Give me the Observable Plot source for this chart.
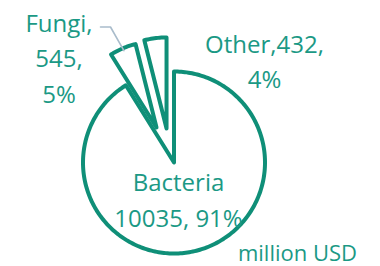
<!DOCTYPE html>
<html><head><meta charset="utf-8">
<script src="https://cdn.jsdelivr.net/npm/d3@7"></script>
<script src="https://cdn.jsdelivr.net/npm/@observablehq/plot@0.6"></script>
<style>
html,body{margin:0;padding:0;background:#fff;}
#chart svg{display:block;}
</style>
</head><body><div id="chart"></div>
<script>
// ---- data ----
const categories = ["Bacteria", "Fungi", "Other"];
const values = [10035, 545, 432];
const percents = ["91%", "5%", "4%"];
const unitLabel = "million USD";

// ---- layout (not data) ----
const W = 380, H = 266;
const CX = 173.5, CY = 162, R = 91;                 // pie centre / radius in px
const offsets = [[0, 0], [-0.192, 0.385], [-0.082, 0.374]]; // slice explosion (unit coords)
const radii = [1, 0.945, 1];
const STROKE = "#0f8f78", TEXT = "#1b9985", LEADER = "#a9bccb";
const FONT = "Open Sans";

const pie = d3.pie().sort(null).startAngle(0).endAngle(2 * Math.PI)(values);

// slice outlines in unit coordinates (r = 1)
const outline = [];
pie.forEach((p, i) => {
  const [ox, oy] = offsets[i], r = radii[i];
  outline.push({name: categories[i], x: ox, y: oy});
  const n = Math.max(4, Math.ceil((p.endAngle - p.startAngle) / 0.02));
  for (let k = 0; k <= n; k++) {
    const a = p.startAngle + (p.endAngle - p.startAngle) * k / n;
    outline.push({name: categories[i], x: ox + r * Math.sin(a), y: oy + r * Math.cos(a)});
  }
});

// px -> unit helpers for label layout
const ux = px => (px - CX) / R;
const uy = py => (CY - py) / R;

const labels = [
  {text: `${categories[1]},\n${values[1]},\n${percents[1]}`, x: ux(58.5), y: uy(55.6)},
  {text: `${categories[2]},${values[2]},\n${percents[2]}`, x: ux(264), y: uy(58.5)},
  {text: `${categories[0]}\n${values[0]}, ${percents[0]}`, x: ux(178), y: uy(197.3)}
];

// leader line for Fungi: from label to slice outer arc
const pf = pie[1], midF = (pf.startAngle + pf.endAngle) / 2;
const endR = radii[1] * 0.97;
const leader = [
  {x: ux(100), y: uy(26.5)},
  {x: ux(110), y: uy(26.5)},
  {x: offsets[1][0] + endR * Math.sin(midF), y: offsets[1][1] + endR * Math.cos(midF)}
];

const chart = Plot.plot({
  width: W, height: H,
  margin: 0,
  x: {domain: [ux(0), ux(W)], axis: null},
  y: {domain: [uy(H), uy(0)], axis: null},
  style: {fontFamily: FONT, background: "#fff", overflow: "visible"},
  marks: [
    Plot.line(outline, {x: "x", y: "y", z: "name", curve: "linear-closed",
      stroke: STROKE, strokeWidth: 4, fill: "white", strokeLinejoin: "round"}),
    Plot.line(leader, {x: "x", y: "y", stroke: LEADER, strokeWidth: 1.6}),
    Plot.text(labels, {x: "x", y: "y", text: "text", fill: TEXT, fontSize: 24,
      lineHeight: 1.47, lineAnchor: "middle", textAnchor: "middle", fontFamily: FONT}),
    Plot.text([unitLabel], {x: ux(297), y: uy(253.2), text: d => d, fill: TEXT, fontSize: 22,
      lineAnchor: "middle", textAnchor: "middle", fontFamily: FONT})
  ]
});
document.getElementById("chart").appendChild(chart);
</script>
</body></html>
